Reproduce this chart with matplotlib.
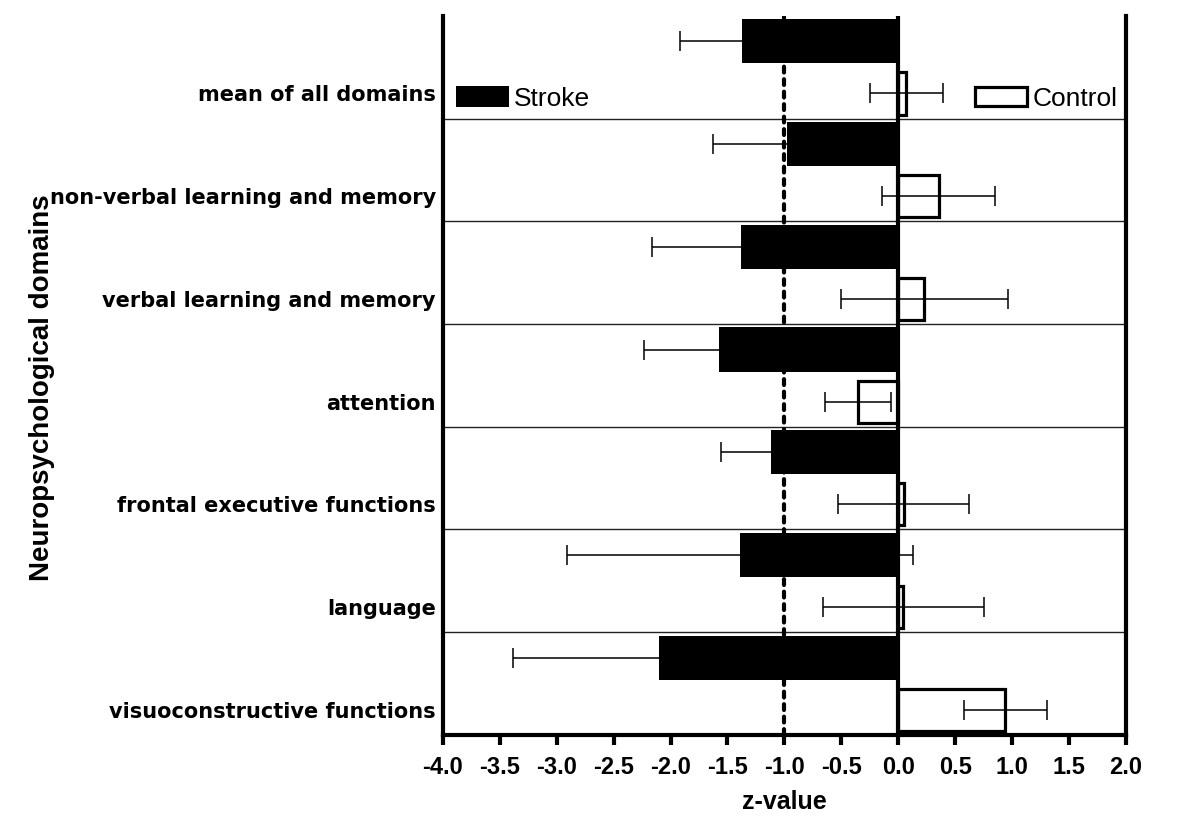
import matplotlib.pyplot as plt
import numpy as np

# domains listed from top to bottom
domains = ["mean of all domains", "non-verbal learning and memory",
           "verbal learning and memory", "attention",
           "frontal executive functions", "language",
           "visuoconstructive functions"]
stroke_mean = [-1.375, -0.98, -1.38, -1.57, -1.12, -1.39, -2.10]
stroke_err = [0.545, 0.65, 0.78, 0.66, 0.44, 1.52, 1.28]
control_mean = [0.07, 0.355, 0.23, -0.35, 0.05, 0.045, 0.94]
control_err = [0.32, 0.495, 0.73, 0.29, 0.575, 0.71, 0.365]
xtick_vals = np.arange(-4.0, 2.01, 0.5)

narrow = ['Liberation Sans Narrow', 'Liberation Sans', 'DejaVu Sans']

fig = plt.figure(figsize=(12, 8.38), dpi=100)
ax = fig.add_axes([0.369, 0.123, 0.5693, 0.858])

n = len(domains)
ypos = np.arange(n)[::-1]

sb = ax.barh(ypos + 0.752, stroke_mean, height=0.43, color='black',
             edgecolor='black', linewidth=0, zorder=2)
cb = ax.barh(ypos + 0.245, control_mean, height=0.41, facecolor='white',
             edgecolor='black', linewidth=2.3, zorder=2)

ax.errorbar(stroke_mean, ypos + 0.752, xerr=stroke_err, fmt='none',
            ecolor='black', elinewidth=1.1, capsize=7, capthick=1.1, zorder=4)
ax.errorbar(control_mean, ypos + 0.245, xerr=control_err, fmt='none',
            ecolor='black', elinewidth=1.1, capsize=7, capthick=1.1, zorder=4)

# separators between domains
for k in range(1, n):
    ax.axhline(k, color='#222222', lw=1.0, zorder=1)

ax.axvline(0, color='black', lw=3, zorder=3)
ax.axvline(-1, color='black', lw=3, linestyle=(0, (1.4, 1.6)),
           dash_capstyle='round', zorder=3)

ax.set_xlim(-4, 2)
ax.set_ylim(0, n)

ax.spines['top'].set_visible(False)
for s in ['left', 'right', 'bottom']:
    ax.spines[s].set_linewidth(3)

ax.set_xticks(xtick_vals)
ax.set_xticklabels([f"{v:.1f}" for v in xtick_vals], family=narrow,
                   fontweight='bold', fontsize=17)
ax.tick_params(axis='x', length=7, width=3, pad=8)

ax.set_yticks(ypos + 0.245)
ax.set_yticklabels(domains, family='DejaVu Sans', fontweight='bold',
                   fontsize=15)
ax.tick_params(axis='y', length=0, pad=5)

ax.set_xlabel('z-value', family=narrow, fontweight='bold', fontsize=18,
              labelpad=8)
ax.set_ylabel('Neuropsychological domains', family='Liberation Sans',
              fontweight='bold', fontsize=20)
ax.yaxis.set_label_coords(-0.567, 0.483)

leg1 = ax.legend([sb[0]], ['Stroke'], loc='center left',
                 bbox_to_anchor=(0.019, 0.885), frameon=False,
                 prop={'family': 'Liberation Sans', 'size': 19},
                 handlelength=2.0, handleheight=0.85, handletextpad=0.2,
                 borderpad=0, borderaxespad=0)
ax.add_artist(leg1)
ax.legend([cb[0]], ['Control'], loc='center right',
          bbox_to_anchor=(0.988, 0.885), frameon=False,
          prop={'family': 'Liberation Sans', 'size': 19},
          handlelength=2.0, handleheight=0.75, handletextpad=0.2,
          borderpad=0, borderaxespad=0)

fig.savefig('out.png', dpi=100)
